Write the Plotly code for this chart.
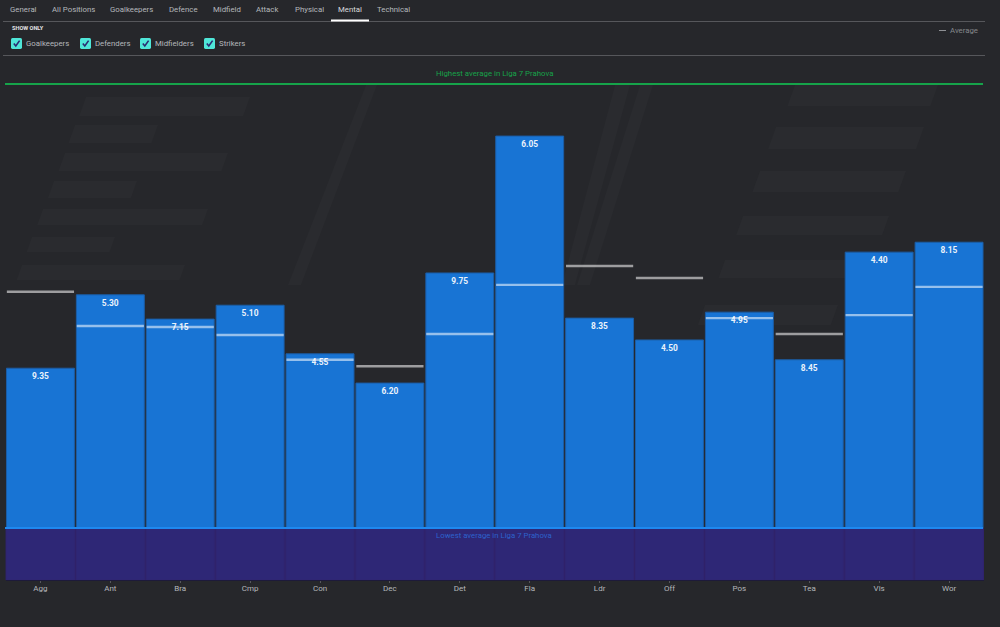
import plotly.graph_objects as go

# ---- data (bar height / average on a 0-100 scale where 100 = league highest) ----
categories = ["Agg", "Ant", "Bra", "Cmp", "Con", "Dec", "Det", "Fla", "Ldr", "Off", "Pos", "Tea", "Vis", "Wor"]
bar_values = [42.7, 57.5, 52.6, 55.4, 45.6, 39.7, 61.9, 89.5, 52.8, 48.4, 54.0, 44.4, 66.1, 68.1]
bar_labels = ["9.35", "5.30", "7.15", "5.10", "4.55", "6.20", "9.75", "6.05", "8.35", "4.50", "4.95", "8.45", "4.40", "8.15"]
average_values = [58.1, 51.2, 51.0, 49.4, 44.4, 43.1, 49.6, 59.5, 63.3, 60.9, 52.8, 49.6, 53.4, 59.1]
highest_average = 100.0
lowest_average = 10.5
tabs = ["General", "All Positions", "Goalkeepers", "Defence", "Midfield", "Attack", "Physical", "Mental", "Technical"]
filters = ["Goalkeepers", "Defenders", "Midfielders", "Strikers"]

W, H = 1000, 627
BG = "#26272b"
FONT = "Roboto"
def px(x): return x / W
def py(y): return 1 - y / H

shapes, annotations = [], []

def poly(points, color, layer="below"):
    d = "M" + " L".join(f"{px(x):.4f},{py(y):.4f}" for x, y in points) + " Z"
    shapes.append(dict(type="path", path=d, xref="paper", yref="paper", fillcolor=color,
                       line=dict(width=0), layer=layer))

def hline(x0, x1, y, color, width):
    shapes.append(dict(type="line", xref="paper", yref="paper", x0=px(x0), x1=px(x1), y0=py(y), y1=py(y),
                       line=dict(color=color, width=width), layer="above"))

def label(x, y, text, size=7.8, color="#b4b7bb", anchor="left", bold=False):
    annotations.append(dict(xref="paper", yref="paper", x=px(x), y=py(y), text=f"<b>{text}</b>" if bold else text,
                            showarrow=False, xanchor=anchor, yanchor="middle", borderpad=0, borderwidth=0,
                            font=dict(family=FONT, size=size, color=color)))

# faint background stripes
STRIPE = "#2a2b2f"
for x0, x1, y0, y1 in [(86, 250, 97, 116), (75, 158, 125, 143), (65, 228, 153, 171), (54, 137, 181, 198),
                       (43, 208, 209, 225), (32, 115, 237, 252), (22, 185, 265, 280),
                       (795, 938, 85, 106), (776, 924, 127, 149), (760, 906, 171, 192),
                       (743, 889, 216, 235), (725, 860, 260, 278), (705, 838, 305, 325)]:
    s = (y1 - y0) * 0.36
    poly([(x0, y0), (x1, y0), (x1 - s, y1), (x0 - s, y1)], STRIPE)
poly([(366, 85), (377, 85), (301, 285), (288, 285)], STRIPE)
poly([(615, 85), (630, 85), (575, 285), (562, 285)], STRIPE)
poly([(640, 85), (653, 85), (590, 285), (577, 285)], STRIPE)

# tabs
tab_x = [10, 52, 110, 169, 213, 256, 295, 338, 377]
for x, t in zip(tab_x, tabs):
    label(x, 9.6, t, color="#d8dadc" if t == "Mental" else "#b4b7bb")
hline(3, 985, 21.5, "#56575b", 1)
hline(331, 369, 20.5, "#ffffff", 2)
label(12, 28.4, "SHOW ONLY", size=5.6, color="#e4e5e6", bold=True)

# filter checkboxes
box_x = [11, 80, 140, 204]
for x, t in zip(box_x, filters):
    r = 1.5
    x0, x1, y0, y1 = x, x + 11, 38, 49
    box = (f"M{px(x0+r):.4f},{py(y0):.4f} L{px(x1-r):.4f},{py(y0):.4f} Q{px(x1):.4f},{py(y0):.4f} {px(x1):.4f},{py(y0+r):.4f} "
           f"L{px(x1):.4f},{py(y1-r):.4f} Q{px(x1):.4f},{py(y1):.4f} {px(x1-r):.4f},{py(y1):.4f} "
           f"L{px(x0+r):.4f},{py(y1):.4f} Q{px(x0):.4f},{py(y1):.4f} {px(x0):.4f},{py(y1-r):.4f} "
           f"L{px(x0):.4f},{py(y0+r):.4f} Q{px(x0):.4f},{py(y0):.4f} {px(x0+r):.4f},{py(y0):.4f} Z")
    shapes.append(dict(type="path", path=box, xref="paper", yref="paper", fillcolor="#4fe6d8",
                       line=dict(width=0), layer="above"))
    d = f"M{px(x+2.8):.4f},{py(43.6):.4f} L{px(x+4.8):.4f},{py(46):.4f} L{px(x+8.6):.4f},{py(40.6):.4f}"
    shapes.append(dict(type="path", path=d, xref="paper", yref="paper", line=dict(color="#2b2a72", width=1.6), layer="above"))
    label(x + 15, 43.5, t)
hline(3, 985, 55.5, "#56575b", 1)

# legend
hline(939, 946, 30.5, "#8e9094", 1)
label(950, 30.5, "Average", color="#85878b")

label(494, 73.4, "Highest average in Liga 7 Prahova", color="#17a24a", anchor="center")
label(494, 535, "Lowest average in Liga 7 Prahova", color="#2d62cc", anchor="center")

# reference bands on the data scale
shapes.append(dict(type="rect", xref="paper", yref="y", x0=px(5.5), x1=px(984), y0=0, y1=lowest_average,
                   fillcolor="rgba(49,33,110,0.92)", line=dict(width=0), layer="above"))
shapes.append(dict(type="line", xref="paper", yref="y", x0=px(5), x1=px(983), y0=lowest_average, y1=lowest_average,
                   line=dict(color="#1e88ef", width=2), layer="above"))
shapes.append(dict(type="line", xref="paper", yref="y", x0=px(5), x1=px(983), y0=highest_average, y1=highest_average,
                   line=dict(color="#16a34a", width=2), layer="above"))

fig = go.Figure()
fig.add_bar(x=categories, y=bar_values, text=bar_labels, width=0.972,
            marker=dict(color="#1874d4", line=dict(color="#1b5da6", width=1)),
            textposition="inside", insidetextanchor="end", constraintext="none", textangle=0, cliponaxis=False,
            textfont=dict(family=FONT, size=8.4, color="#eaf2fb", weight="bold"), hoverinfo="skip")
fig.add_scatter(x=categories, y=average_values, mode="markers",
                marker=dict(symbol="line-ew", size=48, line=dict(color="rgba(255,255,255,0.55)", width=2.4)),
                hoverinfo="skip")

fig.update_layout(
    width=W, height=H, margin=dict(l=0, r=0, t=0, b=0), showlegend=False,
    paper_bgcolor=BG, plot_bgcolor="rgba(0,0,0,0)", shapes=shapes, annotations=annotations,
    xaxis=dict(domain=[px(5.5), px(984)], type="category", categoryorder="array", categoryarray=categories,
               range=[-0.5, 13.5], showgrid=False, zeroline=False, showline=True, linecolor="#1d1a3a", linewidth=1,
               ticks="outside", ticklen=2, tickcolor="#55565a", tickwidth=1, ticklabelstandoff=-2,
               tickfont=dict(family=FONT, size=8, color="#b4b7bb")),
    yaxis=dict(domain=[py(580), py(60)], range=[0, (580 - 60) / 4.96], visible=False),
)
fig.write_html("out.html", config=dict(displayModeBar=False),
               post_script="document.body.style.margin='0';")
